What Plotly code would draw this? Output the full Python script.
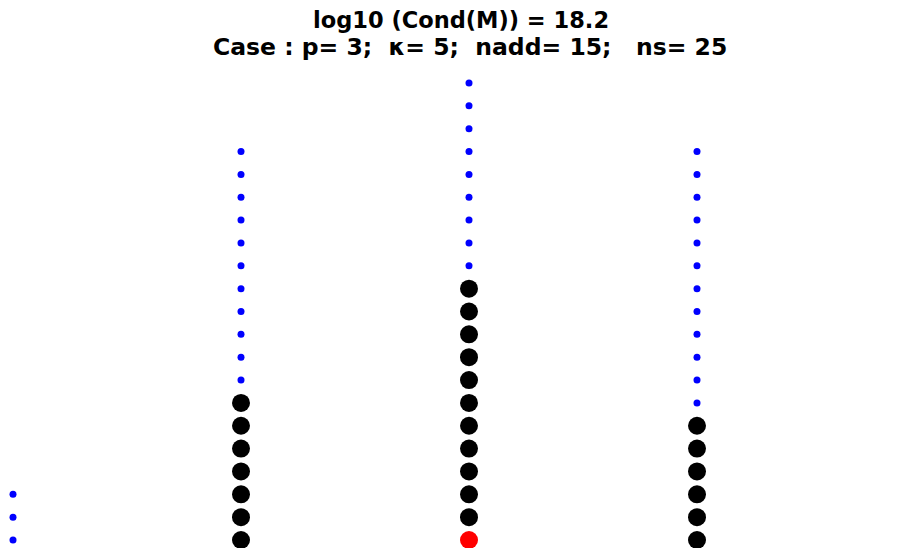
import plotly.graph_objects as go

# column positions (knot spans) and the levels of each dot in that column
blue_x = [0, 0, 0,
          1, 1, 1, 1, 1, 1, 1, 1, 1, 1, 1,
          2, 2, 2, 2, 2, 2, 2, 2, 2,
          3, 3, 3, 3, 3, 3, 3, 3, 3, 3, 3, 3,
          4, 4]
blue_y = [0, 1, 2,
          7, 8, 9, 10, 11, 12, 13, 14, 15, 16, 17,
          12, 13, 14, 15, 16, 17, 18, 19, 20,
          6, 7, 8, 9, 10, 11, 12, 13, 14, 15, 16, 17,
          0, 1]

black_x = [1, 1, 1, 1, 1, 1, 1,
           2, 2, 2, 2, 2, 2, 2, 2, 2, 2, 2,
           3, 3, 3, 3, 3, 3]
black_y = [0, 1, 2, 3, 4, 5, 6,
           1, 2, 3, 4, 5, 6, 7, 8, 9, 10, 11,
           0, 1, 2, 3, 4, 5]

red_x = [2]
red_y = [0]

title_line1 = "log10 (Cond(M)) = 18.2"
title_line2 = "Case : p= 3;  \u03ba= 5;  nadd= 15;   ns= 25"

fig = go.Figure()
fig.add_trace(go.Scatter(x=blue_x, y=blue_y, mode="markers",
                         marker=dict(color="#0000ff", size=7)))
fig.add_trace(go.Scatter(x=black_x, y=black_y, mode="markers",
                         marker=dict(color="black", size=18)))
fig.add_trace(go.Scatter(x=red_x, y=red_y, mode="markers",
                         marker=dict(color="#ff0000", size=18)))

# page has an 8px body margin, so positions below are shifted by it
for txt, ypix, xc, fs in [(title_line1, 12, 452.5, 22.5), (title_line2, 39, 461.5, 23.5)]:
    fig.add_annotation(text=txt.replace(" ", "\u00a0"), xref="paper", yref="paper",
                       x=xc / 923, y=1 - ypix / 548, xanchor="center", yanchor="middle",
                       showarrow=False,
                       font=dict(family="DejaVu Sans", size=fs, color="black", weight="bold"))

fig.update_layout(
    width=923, height=548,
    margin=dict(l=0, r=0, t=0, b=0),
    paper_bgcolor="white", plot_bgcolor="white",
    showlegend=False,
    xaxis=dict(range=[-5 / 228, 918 / 228], visible=False),
    yaxis=dict(range=[-16 / 22.85, 532 / 22.85], visible=False),
)

fig.write_html("out.html")
